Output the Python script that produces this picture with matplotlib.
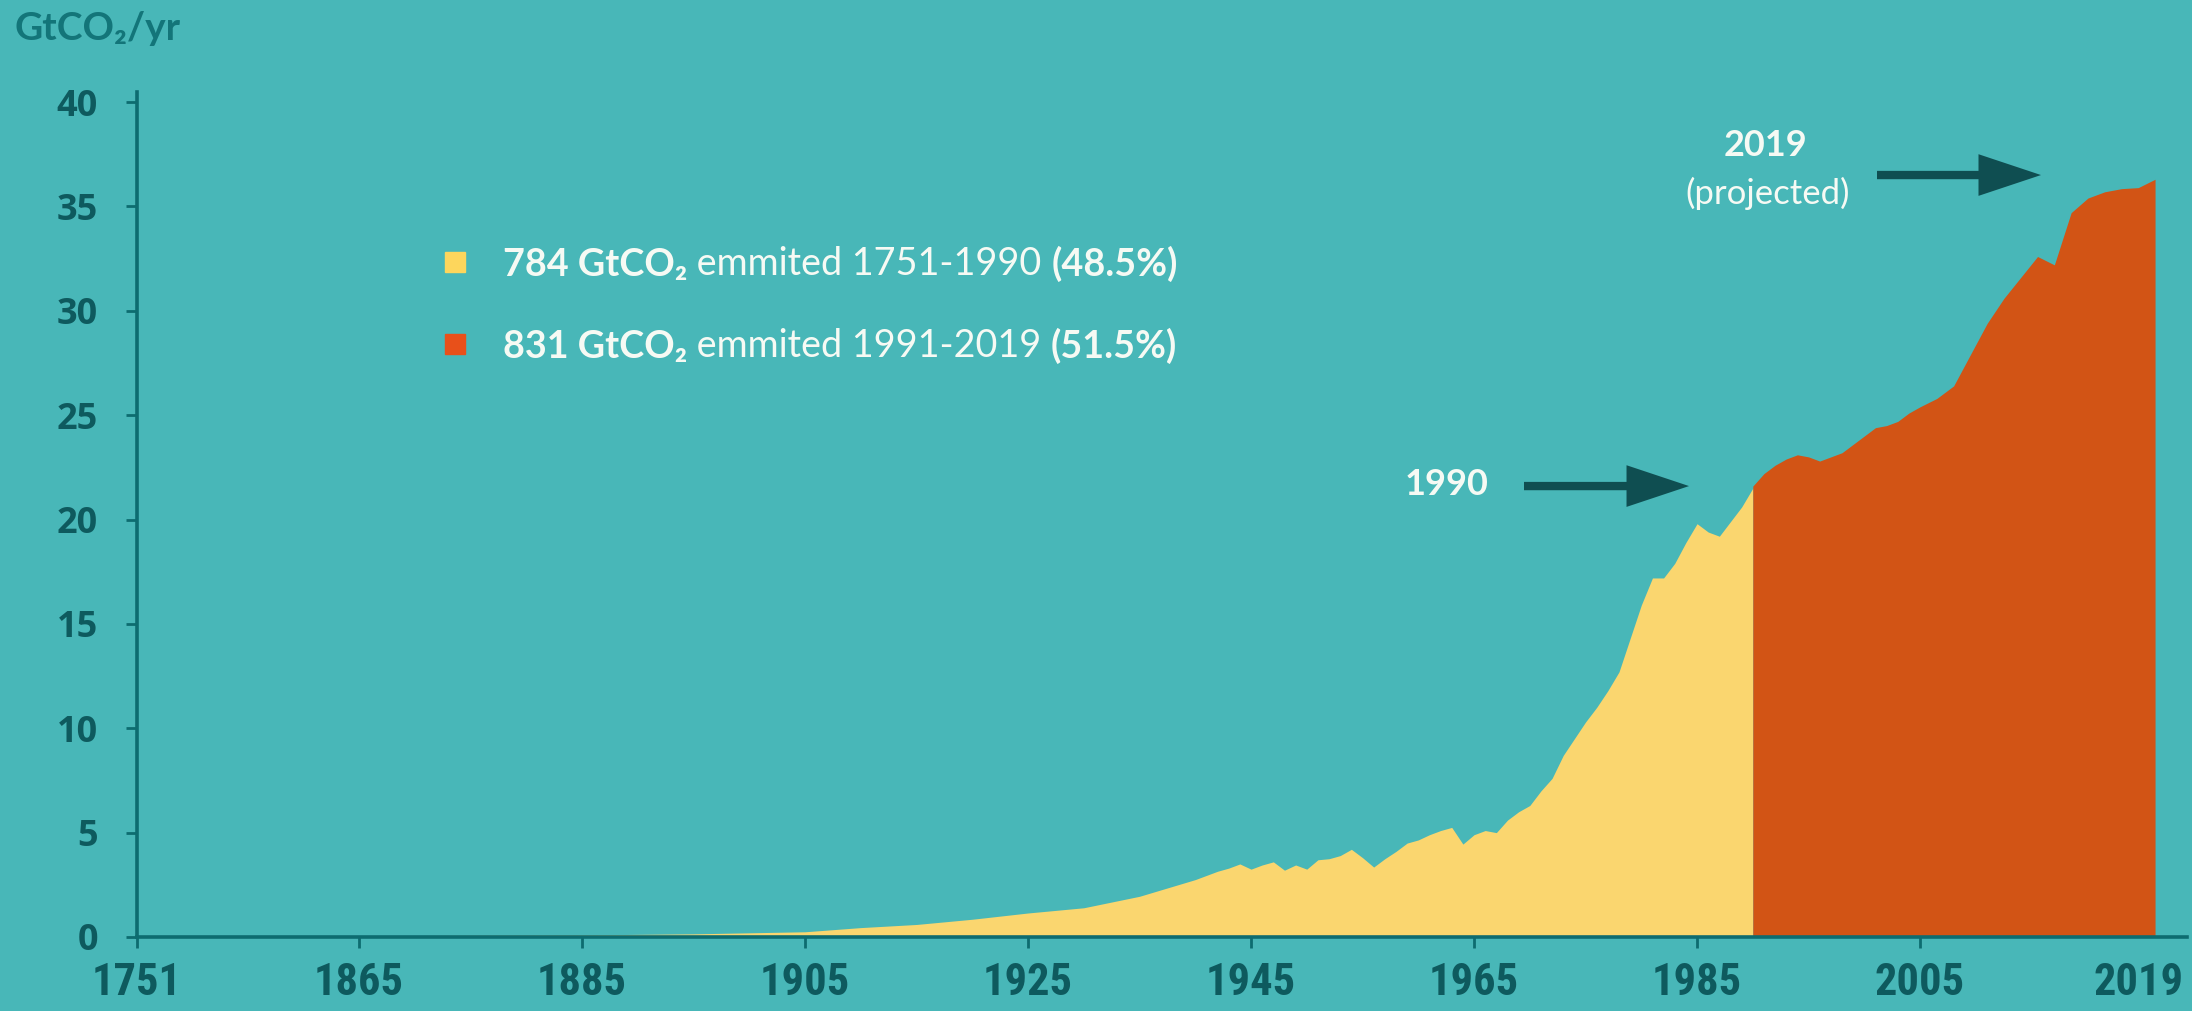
import numpy as np
import matplotlib.pyplot as plt
from matplotlib import font_manager

#---- colours ----
bg_color     = "#48b7b8"
yellow_color = "#fad66f"
orange_color = "#d25415"
axis_color   = "#0d6c70"
label_color  = "#0e5a5e"
title_color  = "#137579"
arrow_color  = "#0f4e51"
white_color  = "#f6faf4"

#---- data (GtCO2/yr) ----
years_early  = [1751, 1800, 1850, 1865, 1885, 1895, 1905, 1910, 1915, 1920, 1925, 1930, 1935]
values_early = [0.02, 0.03, 0.05, 0.06, 0.10, 0.15, 0.25, 0.45, 0.60, 0.85, 1.15, 1.40, 1.95]

years_mid  = np.arange(1940, 1991)
values_mid = [2.75, 2.95, 3.15, 3.30, 3.50, 3.25, 3.45, 3.60, 3.20, 3.45,   # 1940-1949
              3.25, 3.70, 3.75, 3.90, 4.20, 3.80, 3.35, 3.75, 4.10, 4.50,   # 1950-1959
              4.65, 4.90, 5.10, 5.25, 4.45, 4.90, 5.10, 5.00, 5.60, 6.00,   # 1960-1969
              6.30, 7.00, 7.60, 8.70, 9.50, 10.3, 11.0, 11.8, 12.7, 14.3,   # 1970-1979
              15.9, 17.2, 17.2, 17.9, 18.9, 19.8, 19.4, 19.2, 19.9, 20.6,   # 1980-1989
              21.5]                                                          # 1990

years_late  = np.arange(1990, 2020)
values_late = [21.6, 22.2, 22.6, 22.9, 23.1, 23.0, 22.8, 23.0, 23.2, 23.6,  # 1990-1999
               24.0, 24.4, 24.5, 24.7, 25.1, 25.4, 25.8, 26.4, 27.9, 29.4,  # 2000-2009
               30.6, 31.6, 32.6, 32.2, 34.7, 35.4, 35.7, 35.85, 35.9, 36.3] # 2010-2019

x_ticks  = [1751, 1865, 1885, 1905, 1925, 1945, 1965, 1985, 2005, 2019]
y_ticks  = [0, 5, 10, 15, 20, 25, 30, 35, 40]

legend_bold1 = ["784 GtCO\u2082", "831 GtCO\u2082"]
legend_text  = [" emmited 1751-1990 ", " emmited 1991-2019 "]
legend_bold2 = ["(48.5%)", "(51.5%)"]
legend_color = ["#fdd65c", "#e8501a"]

#---- fonts ----
#x labels use a condensed bold face, pick whatever narrow face is installed
font_list = font_manager.fontManager.ttflist
x_font, x_stretch = "Roboto", "normal"
for name in ["Roboto Condensed", "Liberation Sans Narrow", "Open Sans Condensed"]:
  if any(f.name == name for f in font_list):
    x_font = name; break
else:
  if any(f.name == "DejaVu Sans" and f.stretch == "condensed" and f.weight == "bold" for f in font_list):
    x_font, x_stretch = "DejaVu Sans", "condensed"
y_font = ["Open Sans", "DejaVu Sans"]
t_font = ["Lato", "DejaVu Sans"]

#---- the year axis of the original is stretched piece by piece ----
scale_years = [1600, 1751, 1865, 2005, 2019, 2100]
scale_px    = [-294, 0, 222, 1783, 2018, 3378]
def year_fwd(x): return np.interp(x, scale_years, scale_px)
def year_inv(p): return np.interp(p, scale_px, scale_years)

#=================================================================
fig = plt.figure(figsize=(21.92, 10.11), dpi=100)
fig.patch.set_facecolor(bg_color)
ax = fig.add_axes([0.0625, 0.0732, 0.9352, 0.8362])
ax.set_facecolor(bg_color)

ax.set_xscale("function", functions=(year_fwd, year_inv))

years_yellow  = np.concatenate([years_early, years_mid])
values_yellow = np.concatenate([values_early, values_mid])
ax.fill_between(years_yellow, values_yellow, 0, color=yellow_color, lw=0)
ax.fill_between(years_late, values_late, 0, color=orange_color, lw=0)

ax.set_xlim(1751, 2020.9)
ax.set_ylim(0, 40.5)

#---- spines and ticks ----
for side in ["top", "right"]:
  ax.spines[side].set_visible(False)
for side in ["left", "bottom"]:
  ax.spines[side].set_color(axis_color)
  ax.spines[side].set_linewidth(2.6)

ax.set_yticks(y_ticks)
ax.set_yticklabels([str(v) for v in y_ticks])
ax.tick_params(axis="y", direction="out", length=8, width=2, color=axis_color, pad=20,
               labelsize=26, labelcolor=label_color)
for lab in ax.get_yticklabels():
  lab.set_family(y_font); lab.set_fontweight("bold")

ax.set_xticks(x_ticks)
ax.set_xticklabels([str(v) for v in x_ticks[:-1]] + [""])
ax.tick_params(axis="x", direction="out", length=8, width=2, color=axis_color, pad=10,
               labelsize=32, labelcolor=label_color)
for lab in ax.get_xticklabels():
  lab.set_family(x_font); lab.set_fontweight("bold"); lab.set_fontstretch(x_stretch)
ax.xaxis.get_major_ticks()[-1].tick1line.set_visible(False)
#last label sits a bit left of the data end, as in the original
ax.annotate(str(x_ticks[-1]), xy=(x_ticks[-1], 0), xycoords=("data", "axes fraction"),
            xytext=(-12, -18), textcoords="offset points", ha="center", va="top",
            fontsize=32, fontweight="bold", family=x_font, fontstretch=x_stretch,
            color=label_color, annotation_clip=False)

#---- unit label ----
fig.text(14/2192, 1 - 29/1011, "GtCO\u2082/yr", ha="left", va="center", fontsize=28,
         fontweight="bold", family=t_font, color=title_color)

#---- legend ----
legend_y = [0.782, 0.685]
for n in range(2):
  ax.plot([0.1551], [legend_y[n] + 0.017], marker="s", ms=14.5, color=legend_color[n],
          transform=ax.transAxes, clip_on=False, lw=0)
  t1 = ax.text(0.1785, legend_y[n], legend_bold1[n], transform=ax.transAxes, ha="left",
               va="baseline", fontsize=27.2, fontweight="bold", family=t_font, color=white_color)
  t2 = ax.annotate(legend_text[n], xy=(1, 0), xycoords=t1, ha="left", va="bottom",
                   fontsize=27.2, family=t_font, color=white_color)
  ax.annotate(legend_bold2[n], xy=(1, 0), xycoords=t2, ha="left", va="bottom",
              fontsize=27.2, fontweight="bold", family=t_font, color=white_color)

#---- annotations ----
ax.text(0.639, 0.535, "1990", transform=ax.transAxes, ha="center", va="center",
        fontsize=26, fontweight="bold", family=t_font, color=white_color)
ax.text(0.7946, 0.9368, "2019", transform=ax.transAxes, ha="center", va="center",
        fontsize=26, fontweight="bold", family=t_font, color=white_color)
ax.text(0.7956, 0.880, "(projected)", transform=ax.transAxes, ha="center", va="center",
        fontsize=25, family=t_font, color=white_color)

arrow_style = "simple,head_length=4.5,head_width=3.0,tail_width=0.6"
for x0, x1, y in [(0.6766, 0.7571, 0.5334), (0.8488, 0.9288, 0.9013)]:
  ax.annotate("", xy=(x1, y), xytext=(x0, y), xycoords="axes fraction",
              arrowprops=dict(arrowstyle=arrow_style, color=arrow_color, lw=0,
                              mutation_scale=10, shrinkA=0, shrinkB=0))

fig.savefig("out.png", dpi=100, facecolor=bg_color)
